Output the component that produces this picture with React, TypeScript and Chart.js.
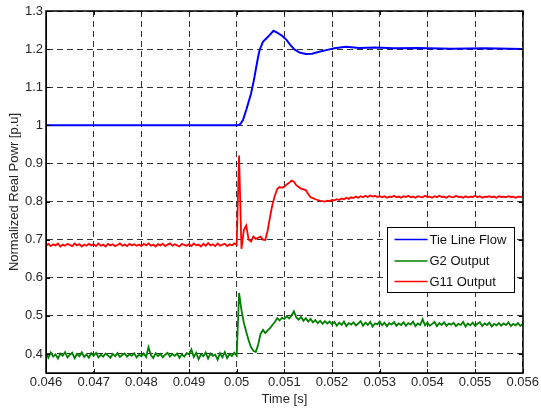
import { useEffect, useRef } from "react";
import { Chart, registerables } from "chart.js";

Chart.register(...registerables);

// ---- axis ticks ----
const xTicks = [0.046, 0.047, 0.048, 0.049, 0.05, 0.051, 0.052, 0.053, 0.054, 0.055, 0.056];
const yTicks = [0.4, 0.5, 0.6, 0.7, 0.8, 0.9, 1.0, 1.1, 1.2, 1.3];

// ---- series labels ----
const seriesLabels = ["Tie Line Flow", "G2 Output", "G11 Output"];

// ---- Tie line flow (smooth) ----
const tieTimes = [
  0.046, 0.05, 0.05003, 0.05008, 0.05013, 0.0502, 0.0503, 0.05036, 0.05041, 0.05045,
  0.05048, 0.05055, 0.05062, 0.0507, 0.05077, 0.05085, 0.05095, 0.05104, 0.05112, 0.05121,
  0.05132, 0.05145, 0.05158, 0.05173, 0.0519, 0.05205, 0.05229, 0.05257, 0.0529, 0.0533,
  0.0538, 0.0545, 0.0552, 0.056,
];
const tieValues = [
  1.0, 1.0, 1.0, 1.004, 1.013, 1.04, 1.083, 1.118, 1.153, 1.18,
  1.197, 1.219, 1.228, 1.238, 1.248, 1.243, 1.235, 1.225, 1.212, 1.199,
  1.191, 1.187, 1.188, 1.193, 1.198, 1.202, 1.206, 1.203, 1.204, 1.202,
  1.203, 1.201, 1.202, 1.2,
];

// ---- sampled generator outputs: first sample at 0.046 s, one every 50 us ----
const sampleStart = 0.046;
const sampleStep = 0.00005;

const g2Values = [
  // 0.046
  0.402, 0.390, 0.404, 0.393, 0.399, 0.388, 0.401, 0.395, 0.405, 0.391, 0.398, 0.403, 0.389, 0.400, 0.394, 0.404, 0.392, 0.399, 0.390, 0.402,
  // 0.047
  0.395, 0.403, 0.391, 0.398, 0.393, 0.401, 0.396, 0.390, 0.400, 0.394, 0.402, 0.392, 0.397, 0.401, 0.393, 0.399, 0.395, 0.402, 0.391, 0.398,
  // 0.048
  0.394, 0.401, 0.392, 0.418, 0.397, 0.389, 0.402, 0.394, 0.400, 0.391, 0.398, 0.403, 0.393, 0.400, 0.395, 0.401, 0.390, 0.399, 0.393, 0.402,
  // 0.049
  0.399, 0.412, 0.392, 0.403, 0.386, 0.399, 0.394, 0.404, 0.388, 0.401, 0.395, 0.398, 0.385, 0.402, 0.391, 0.405, 0.389, 0.400, 0.394, 0.403,
  // 0.050
  0.396, 0.560, 0.515, 0.482, 0.458, 0.436, 0.418, 0.408, 0.405, 0.424, 0.452, 0.463, 0.455, 0.462, 0.468, 0.476, 0.484, 0.494, 0.488, 0.495,
  // 0.051
  0.492, 0.499, 0.493, 0.501, 0.512, 0.496, 0.490, 0.497, 0.487, 0.494, 0.485, 0.492, 0.483, 0.489, 0.481, 0.487, 0.479, 0.486, 0.480, 0.485,
  // 0.052
  0.478, 0.484, 0.474, 0.482, 0.476, 0.485, 0.473, 0.481, 0.477, 0.483, 0.475, 0.480, 0.486, 0.474, 0.482, 0.476, 0.484, 0.472, 0.480, 0.478,
  // 0.053
  0.485, 0.475, 0.482, 0.473, 0.481, 0.477, 0.484, 0.474, 0.480, 0.476, 0.483, 0.474, 0.481, 0.477, 0.485, 0.473, 0.480, 0.476, 0.491, 0.475,
  // 0.054
  0.482, 0.474, 0.479, 0.484, 0.473, 0.481, 0.476, 0.483, 0.474, 0.480, 0.477, 0.482, 0.473, 0.479, 0.476, 0.484, 0.472, 0.480, 0.475, 0.482,
  // 0.055
  0.474, 0.479, 0.483, 0.473, 0.480, 0.476, 0.482, 0.472, 0.479, 0.475, 0.481, 0.474, 0.480, 0.476, 0.483, 0.473, 0.479, 0.475, 0.481, 0.474,
  // 0.056
  0.478,
];

const g11Values = [
  // 0.046
  0.684, 0.689, 0.683, 0.688, 0.685, 0.690, 0.682, 0.687, 0.684, 0.689, 0.686, 0.683, 0.690, 0.685, 0.688, 0.682, 0.687, 0.684, 0.689, 0.685,
  // 0.047
  0.688, 0.683, 0.690, 0.684, 0.687, 0.682, 0.689, 0.685, 0.688, 0.683, 0.686, 0.690, 0.684, 0.687, 0.683, 0.689, 0.685, 0.688, 0.684, 0.687,
  // 0.048
  0.683, 0.689, 0.685, 0.690, 0.684, 0.687, 0.682, 0.688, 0.685, 0.689, 0.683, 0.687, 0.690, 0.684, 0.688, 0.685, 0.682, 0.689, 0.686, 0.684,
  // 0.049
  0.688, 0.683, 0.690, 0.685, 0.687, 0.682, 0.689, 0.684, 0.691, 0.685, 0.688, 0.683, 0.690, 0.684, 0.687, 0.689, 0.683, 0.688, 0.685, 0.690,
  // 0.050
  0.686, 0.921, 0.676, 0.725, 0.737, 0.700, 0.695, 0.708, 0.702, 0.705, 0.708, 0.700, 0.699, 0.724, 0.760, 0.792, 0.815, 0.833, 0.838, 0.836,
  // 0.051
  0.839, 0.845, 0.849, 0.855, 0.852, 0.843, 0.838, 0.834, 0.832, 0.830, 0.820, 0.811, 0.809, 0.806, 0.804, 0.802, 0.801, 0.800, 0.802, 0.801,
  // 0.052
  0.804, 0.803, 0.806, 0.804, 0.808, 0.806, 0.810, 0.807, 0.811, 0.809, 0.813, 0.810, 0.814, 0.811, 0.815, 0.812, 0.816, 0.813, 0.815, 0.812,
  // 0.053
  0.814, 0.811, 0.814, 0.810, 0.813, 0.812, 0.815, 0.811, 0.813, 0.810, 0.814, 0.812, 0.815, 0.811, 0.813, 0.810, 0.814, 0.812, 0.811, 0.815,
  // 0.054
  0.812, 0.813, 0.810, 0.814, 0.811, 0.815, 0.812, 0.813, 0.810, 0.814, 0.812, 0.811, 0.815, 0.812, 0.813, 0.810, 0.814, 0.811, 0.813, 0.812,
  // 0.055
  0.815, 0.811, 0.814, 0.810, 0.813, 0.812, 0.814, 0.811, 0.813, 0.810, 0.814, 0.812, 0.813, 0.811, 0.814, 0.812, 0.813, 0.810, 0.813, 0.812,
  // 0.056
  0.812,
];

const seriesColors = ["#0000ff", "#008000", "#ff0000"];

const FONT_FAMILY = '"Liberation Sans", Arial, Helvetica, sans-serif';
const TEXT_COLOR = "#262626";

function fmt(v: number, d: number) {
  return String(parseFloat(Number(v).toFixed(d)));
}

const framePlugin = {
  id: "matlabFrame",
  afterDraw(chart: any) {
    const { ctx, chartArea } = chart;
    const { left, right, top, bottom } = chartArea;
    const xs = chart.scales.x;
    const ys = chart.scales.y;
    ctx.save();
    ctx.setLineDash([]);
    ctx.strokeStyle = "#000";
    ctx.lineWidth = 1;
    // inward tick marks
    const tl = 4;
    ctx.beginPath();
    xTicks.forEach((t) => {
      const px = Math.round(xs.getPixelForValue(t)) + 0.5;
      ctx.moveTo(px, bottom);
      ctx.lineTo(px, bottom - tl);
      ctx.moveTo(px, top);
      ctx.lineTo(px, top + tl);
    });
    yTicks.forEach((t) => {
      const py = Math.round(ys.getPixelForValue(t)) + 0.5;
      ctx.moveTo(left, py);
      ctx.lineTo(left + tl, py);
      ctx.moveTo(right, py);
      ctx.lineTo(right - tl, py);
    });
    ctx.stroke();
    // box
    ctx.lineWidth = 1.5;
    ctx.strokeRect(Math.round(left), Math.round(top), Math.round(right - left), Math.round(bottom - top));

    // legend
    const bw = 127;
    const bh = 65;
    const bx = Math.round(right - 9 - bw) + 0.5;
    const by = Math.round(top + 216) + 0.5;
    ctx.fillStyle = "#fff";
    ctx.fillRect(bx, by, bw, bh);
    ctx.lineWidth = 1;
    ctx.strokeStyle = "#000";
    ctx.strokeRect(bx, by, bw, bh);
    const rows = [12, 33.5, 54];
    ctx.font = `13px ${FONT_FAMILY}`;
    ctx.textBaseline = "middle";
    ctx.textAlign = "left";
    seriesLabels.forEach((lab, i) => {
      const yy = by + rows[i];
      ctx.strokeStyle = seriesColors[i];
      ctx.lineWidth = 1.5;
      ctx.beginPath();
      ctx.moveTo(bx + 7, yy);
      ctx.lineTo(bx + 40, yy);
      ctx.stroke();
      ctx.fillStyle = "#111";
      ctx.fillText(lab, bx + 42, yy + 0.5);
    });
    ctx.restore();
  },
};

export default function App() {
  const ref = useRef<HTMLCanvasElement | null>(null);

  useEffect(() => {
    document.body.style.margin = "0";
    const canvas = ref.current;
    if (!canvas) return;
    const sampleTimes = g2Values.map((_, i) => sampleStart + i * sampleStep);
    const tieData = tieTimes.map((t, i) => ({ x: t, y: tieValues[i] }));
    const g2Data = g2Values.map((v, i) => ({ x: sampleTimes[i], y: v }));
    const g11Data = g11Values.map((v, i) => ({ x: sampleTimes[i], y: v }));

    const font = { family: FONT_FAMILY, size: 13 };

    const chart = new Chart(canvas, {
      type: "line",
      data: {
        datasets: [
          { label: seriesLabels[0], data: tieData, borderColor: seriesColors[0], borderWidth: 2, pointRadius: 0, tension: 0, fill: false },
          { label: seriesLabels[1], data: g2Data, borderColor: seriesColors[1], borderWidth: 1.8, pointRadius: 0, tension: 0, fill: false },
          { label: seriesLabels[2], data: g11Data, borderColor: seriesColors[2], borderWidth: 1.8, pointRadius: 0, tension: 0, fill: false },
        ],
      },
      options: {
        animation: false,
        responsive: false,
        devicePixelRatio: 1,
        layout: { padding: { top: 11, right: 17, left: 0, bottom: 0 } },
        plugins: { legend: { display: false }, tooltip: { enabled: false } },
        scales: {
          x: {
            type: "linear",
            min: 0.046,
            max: 0.056,
            afterBuildTicks: (s: any) => {
              s.ticks = xTicks.map((v) => ({ value: v }));
            },
            afterFit: (s: any) => {
              s.height = 35;
            },
            ticks: {
              callback: (v: any) => fmt(v, 3),
              font,
              color: TEXT_COLOR,
              padding: 2,
              maxRotation: 0,
              autoSkip: false,
            },
            grid: { color: "#333", lineWidth: 1, drawTicks: false },
            border: { display: true, color: "#000", dash: [6, 4] },
            title: { display: true, text: "Time [s]", font, color: TEXT_COLOR, padding: { top: 0, bottom: 1 } },
          },
          y: {
            type: "linear",
            min: 0.35,
            max: 1.3,
            afterBuildTicks: (s: any) => {
              s.ticks = yTicks.map((v) => ({ value: v }));
            },
            afterFit: (s: any) => {
              s.width = 46;
            },
            ticks: {
              callback: (v: any) => fmt(v, 2),
              font,
              color: TEXT_COLOR,
              padding: 3,
              autoSkip: false,
            },
            grid: { color: "#333", lineWidth: 1, drawTicks: false },
            border: { display: true, color: "#000", dash: [6, 4] },
            title: { display: true, text: "Normalized Real Powr [p.u]", font, color: TEXT_COLOR, padding: { top: 7, bottom: 0 } },
          },
        },
      },
      plugins: [framePlugin],
    });
    return () => chart.destroy();
  }, []);

  return (
    <div style={{ position: "absolute", left: 0, top: 0, width: 541, height: 408, background: "#fff" }}>
      <canvas ref={ref} width={541} height={408} style={{ display: "block" }} />
    </div>
  );
}
